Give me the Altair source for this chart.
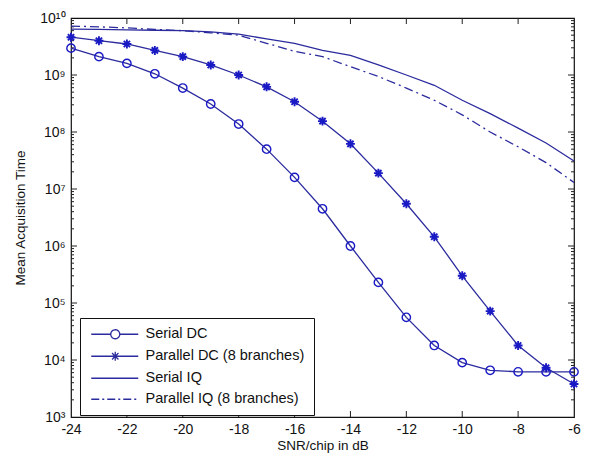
import altair as alt
import pandas as pd

# ---------------- data ----------------
snr = list(range(-24, -5))  # -24 ... -6 dB
serial_dc = [2.96e9, 2.1e9, 1.6e9, 1.05e9, 5.9e8, 3.1e8, 1.38e8, 5.0e7, 1.6e7, 4.5e6,
             1.0e6, 2.3e5, 5.6e4, 1.8e4, 9.0e3, 6.6e3, 6.2e3, 6.2e3, 6.2e3]
parallel_dc = [4.6e9, 4.0e9, 3.5e9, 2.7e9, 2.1e9, 1.5e9, 1.0e9, 6.2e8, 3.4e8, 1.55e8,
               6.2e7, 1.9e7, 5.5e6, 1.45e6, 3.0e5, 7.2e4, 1.8e4, 7.3e3, 3.8e3]
serial_iq = [6.4e9, 6.3e9, 6.2e9, 6.1e9, 6.0e9, 5.7e9, 5.2e9, 4.3e9, 3.6e9, 2.7e9,
             2.2e9, 1.5e9, 1.0e9, 6.6e8, 3.6e8, 2.1e8, 1.17e8, 6.4e7, 3.1e7]
parallel_iq = [7.2e9, 7.0e9, 6.7e9, 6.3e9, 6.0e9, 5.5e9, 5.0e9, 3.6e9, 2.6e9, 2.1e9,
               1.4e9, 9.4e8, 5.9e8, 3.6e8, 2.0e8, 1.0e8, 5.5e7, 2.9e7, 1.3e7]

names = ["Serial DC", "Parallel DC (8 branches)", "Serial IQ", "Parallel IQ (8 branches)"]
x_ticks = [-24, -22, -20, -18, -16, -14, -12, -10, -8, -6]
y_decades = [1e3, 1e4, 1e5, 1e6, 1e7, 1e8, 1e9, 1e10]
sup = ["³", "⁴", "⁵", "⁶", "⁷", "⁸", "⁹", "¹⁰"]

# ---------------- tables ----------------
rows = []
for name, vals in zip(names, [serial_dc, parallel_dc, serial_iq, parallel_iq]):
    for s, v in zip(snr, vals):
        rows.append({"snr": s, "t": v, "series": name})
df = pd.DataFrame(rows)

minor = [k * 10 ** n for n in range(3, 10) for k in range(2, 10)]
df_ymajor = pd.DataFrame({"t": y_decades[1:-1]})
df_yminor = pd.DataFrame({"t": minor})
df_xmajor = pd.DataFrame({"snr": x_ticks[1:-1]})
df_leg = pd.DataFrame({"snr": [-24] * 4, "t": [100.0] * 4, "series": names})

LINE = "#2b2b9e"
MARK = "#1a1ac4"
FONT = "Liberation Sans"
W, H = 503, 399

xscale = alt.Scale(domain=[-24, -6], nice=False, zero=False)
yscale = alt.Scale(type="log", domain=[1e3, 1e10], nice=False)

label_expr = "'10' + " + str(sup).replace(" ", "") + "[round(log(datum.value)/LN10)-3]"

X = alt.X("snr:Q", scale=xscale,
          axis=alt.Axis(values=x_ticks, labelExpr="'' + datum.value", title="SNR/chip in dB",
                        domain=False, ticks=False,
                        grid=False, labelPadding=5, titlePadding=2, labelFontSize=14,
                        titleFontSize=13.5, labelFont=FONT, titleFont=FONT,
                        labelColor="#111", titleColor="#111", titleFontWeight="normal",
                        labelFlush=False))
Y = alt.Y("t:Q", scale=yscale,
          axis=alt.Axis(values=y_decades, labelExpr=label_expr, title="Mean Acquisition Time",
                        domain=False, ticks=False, grid=False, labelPadding=6,
                        titlePadding=12, labelFontSize=14, titleFontSize=13.5,
                        labelFont=FONT, titleFont=FONT, labelColor="#111",
                        titleColor="#111", titleFontWeight="normal", labelFlush=False))

base = alt.Chart(df)

line_solid = base.transform_filter(
    alt.datum.series != "Parallel IQ (8 branches)"
).mark_line(color=LINE, strokeWidth=1.3).encode(x=X, y=Y, detail="series:N")

line_dash = base.transform_filter(
    alt.datum.series == "Parallel IQ (8 branches)"
).mark_line(color=LINE, strokeWidth=1.3, strokeDash=[9, 4, 2, 4]).encode(x=X, y=Y)

circles = base.transform_filter(
    alt.datum.series == "Serial DC"
).mark_point(shape="circle", size=70, filled=False, color=MARK, strokeWidth=1.4,
             opacity=1).encode(x=X, y=Y)

STAR = "M-1,0H1M0,-1V1M-0.7,-0.7L0.7,0.7M-0.7,0.7L0.7,-0.7"
stars = base.transform_filter(
    alt.datum.series == "Parallel DC (8 branches)"
).mark_point(shape=STAR, size=80, filled=False, color=MARK, strokeWidth=1.9,
             opacity=1).encode(x=X, y=Y)

# legend symbols (line + marker drawn as custom paths)
leg_paths = [
    "M-1,0H2.9M4.7,0H8.4M4.7,0A0.9,0.9 0 1,1 2.9,0A0.9,0.9 0 1,1 4.7,0",
    "M-1,0H8.4M3.8,-0.9V0.9M3.16,-0.64L4.44,0.64M3.16,0.64L4.44,-0.64",
    "M-1,0H8.4",
    "M-1,0H8.4",
]
leg_dash = [[1, 0], [1, 0], [1, 0], [8, 3, 2, 3]]
legend = alt.Legend(orient="none", legendX=9, legendY=300, strokeColor="#111",
                    fillColor="white", padding=9, labelFontSize=14.5, labelFont=FONT,
                    labelColor="#111", symbolSize=100, symbolStrokeColor=LINE,
                    symbolStrokeWidth=1.3, symbolOpacity=1, labelOffset=42, rowPadding=6,
                    symbolFillColor="transparent", cornerRadius=0)

leg_layer = alt.Chart(df_leg).mark_point(clip=True, filled=False, color=LINE,
                                         opacity=1).encode(
    x=alt.X("snr:Q", scale=xscale),
    y=alt.Y("t:Q", scale=yscale),
    shape=alt.Shape("series:N", scale=alt.Scale(domain=names, range=leg_paths),
                    legend=legend, title=None),
    strokeDash=alt.StrokeDash("series:N", scale=alt.Scale(domain=names, range=leg_dash),
                              legend=legend, title=None),
)

# inward ticks (box style)
tk = dict(color="#222", strokeWidth=1)
yl_major = alt.Chart(df_ymajor).mark_rule(**tk).encode(
    y=alt.Y("t:Q", scale=yscale), x=alt.value(0), x2=alt.value(6))
yr_major = alt.Chart(df_ymajor).mark_rule(**tk).encode(
    y=alt.Y("t:Q", scale=yscale), x=alt.value(W - 6), x2=alt.value(W))
yl_minor = alt.Chart(df_yminor).mark_rule(**tk).encode(
    y=alt.Y("t:Q", scale=yscale), x=alt.value(0), x2=alt.value(3))
yr_minor = alt.Chart(df_yminor).mark_rule(**tk).encode(
    y=alt.Y("t:Q", scale=yscale), x=alt.value(W - 3), x2=alt.value(W))
xb_major = alt.Chart(df_xmajor).mark_rule(**tk).encode(
    x=alt.X("snr:Q", scale=xscale), y=alt.value(H - 6), y2=alt.value(H))
xt_major = alt.Chart(df_xmajor).mark_rule(**tk).encode(
    x=alt.X("snr:Q", scale=xscale), y=alt.value(0), y2=alt.value(6))

chart = alt.layer(
    yl_major, yr_major, yl_minor, yr_minor, xb_major, xt_major,
    line_solid, line_dash, circles, stars, leg_layer
).properties(
    width=W, height=H,
    padding={"left": 63, "top": 10, "right": 7, "bottom": 36},
    autosize=alt.AutoSizeParams(type="none"),
    background="white",
).configure_view(stroke="#111", strokeWidth=1.2)

chart.save("out.html", embed_options={"renderer": "svg", "actions": False})
